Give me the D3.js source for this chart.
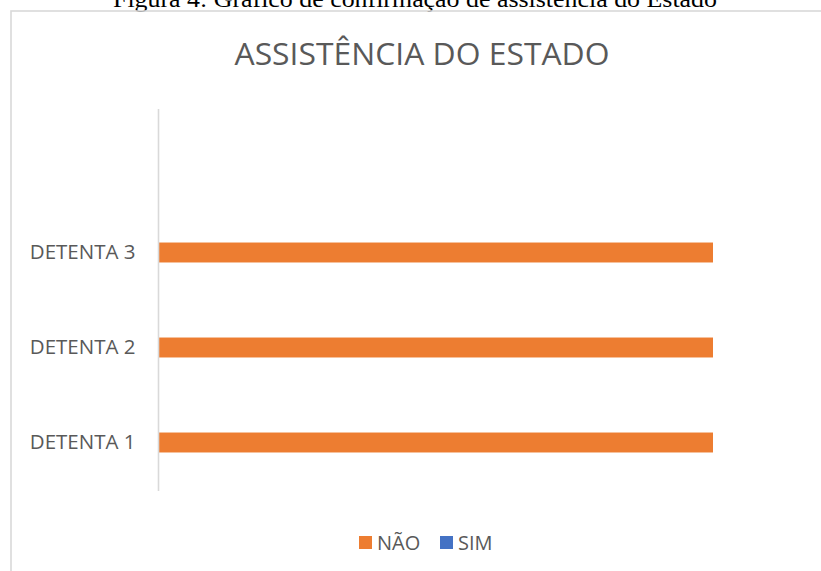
<!DOCTYPE html>
<html>
<head>
<meta charset="utf-8">
<script src="https://cdn.jsdelivr.net/npm/d3@7"></script>
<style>
  body { margin: 0; background: #fff; }
  svg { display: block; }
</style>
</head>
<body>
<svg class="bar-chart" width="821" height="571"></svg>
<script>
// data
const categories = ['DETENTA 1', 'DETENTA 2', 'DETENTA 3'];
const naoValues = [1, 1, 1];
const simValues = [0, 0, 0];
const seriesNames = ['NÃO', 'SIM'];
const seriesColors = ['#ED7D31', '#4472C4'];

const svg = d3.select('.bar-chart');
const textColor = '#595959';
const gridColor = '#d9d9d9';

// caption above the frame (clipped by the page top, as in the source)
svg.append('text')
    .attr('x', 415)
    .attr('y', 7)
    .attr('text-anchor', 'middle')
    .attr('font-family', '"Liberation Serif", "Times New Roman", serif')
    .attr('font-size', 24)
    .attr('fill', '#000')
    .attr('textLength', 604)
    .attr('lengthAdjust', 'spacingAndGlyphs')
    .text('Figura 4: Gráfico de confirmação de assistência do Estado');

// chart frame
svg.append('rect')
    .attr('x', 11)
    .attr('y', 11)
    .attr('width', 840)
    .attr('height', 600)
    .attr('fill', 'none')
    .attr('stroke', gridColor)
    .attr('stroke-width', 1.6);

// title
svg.append('text')
    .attr('x', 422)
    .attr('y', 65)
    .attr('text-anchor', 'middle')
    .attr('font-family', '"Open Sans", sans-serif')
    .attr('font-size', 31)
    .attr('fill', textColor)
    .attr('textLength', 375)
    .attr('lengthAdjust', 'spacingAndGlyphs')
    .text('ASSISTÊNCIA DO ESTADO');

const plotTop = 109, plotBottom = 491, axisX = 158.5;

const x = d3.scaleLinear()
    .domain([0, 1])
    .range([159, 713]);

const y = d3.scaleBand()
    .domain(categories)
    .range([490, 205])
    .paddingInner(0.79)
    .paddingOuter(0.395);

const yAxis = d3.axisLeft(y)
    .tickSize(0)
    .tickPadding(23);

const yAxisG = svg.append('g')
    .attr('transform', `translate(${axisX}, 0)`)
    .call(yAxis);

yAxisG.select('.domain').remove();
yAxisG.selectAll('text')
    .attr('font-family', '"Open Sans", sans-serif')
    .attr('font-size', 20.5)
    .attr('fill', textColor);

// bars
const rows = categories.map((c, i) => ({ cat: c, nao: naoValues[i], sim: simValues[i] }));

svg.append('g').selectAll('rect')
    .data(rows)
    .enter()
    .append('rect')
    .attr('x', x(0))
    .attr('y', d => y(d.cat))
    .attr('width', d => x(d.nao) - x(0))
    .attr('height', y.bandwidth())
    .attr('fill', seriesColors[0]);

svg.append('g').selectAll('rect')
    .data(rows)
    .enter()
    .append('rect')
    .attr('x', x(0))
    .attr('y', d => y(d.cat))
    .attr('width', d => x(d.sim) - x(0))
    .attr('height', y.bandwidth())
    .attr('fill', seriesColors[1]);

// vertical axis line
svg.append('line')
    .attr('x1', axisX)
    .attr('x2', axisX)
    .attr('y1', plotTop)
    .attr('y2', plotBottom)
    .attr('stroke', gridColor)
    .attr('stroke-width', 1.6);

// legend
const legendX = [359, 440];
const legend = svg.append('g');
seriesNames.forEach((name, i) => {
    legend.append('rect')
        .attr('x', legendX[i])
        .attr('y', 536)
        .attr('width', 13)
        .attr('height', 13)
        .attr('fill', seriesColors[i]);
    legend.append('text')
        .attr('x', legendX[i] + 18)
        .attr('y', 550)
        .attr('font-family', '"Open Sans", sans-serif')
        .attr('font-size', 20)
        .attr('fill', textColor)
        .text(name);
});
</script>
</body>
</html>
